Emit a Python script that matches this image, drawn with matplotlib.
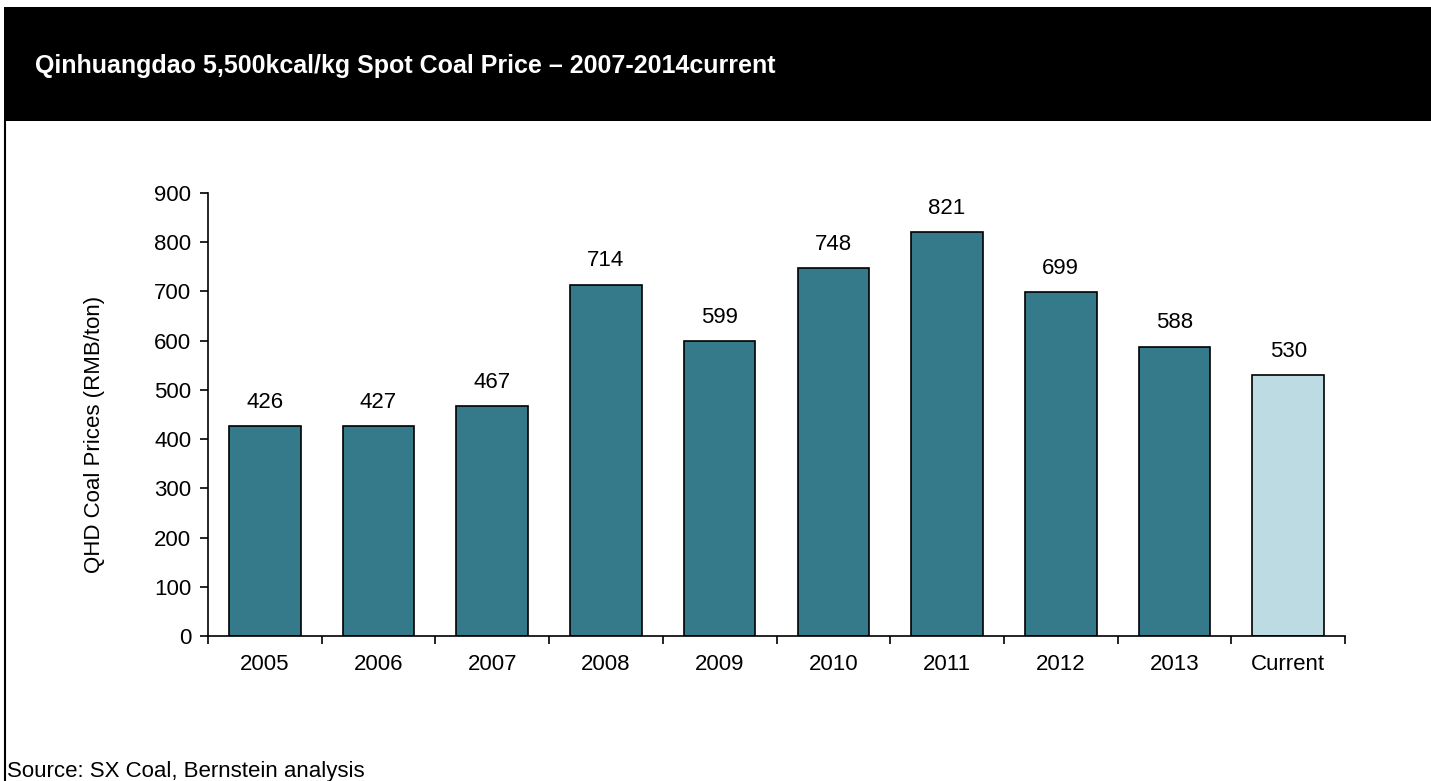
import matplotlib.pyplot as plt
import matplotlib.patches as mpatches
import numpy as np

plt.rcParams['font.family'] = ['Liberation Sans', 'DejaVu Sans']

# QHD 5,500kcal/kg spot coal prices, RMB/ton
categories = ['2005', '2006', '2007', '2008', '2009', '2010', '2011', '2012', '2013', 'Current']
prices = [426, 427, 467, 714, 599, 748, 821, 699, 588, 530]
bar_colors = ['#347a8a'] * 9 + ['#bcdbe2']

fig = plt.figure(figsize=(14.31, 7.81), dpi=100)

# black header band and left frame line
fig.add_artist(mpatches.Rectangle((4/1431, 1-121/781), 1, 114/781, transform=fig.transFigure,
                                  facecolor='black', edgecolor='none'))
fig.add_artist(plt.Line2D([5/1431, 5/1431], [0, 1-121/781], transform=fig.transFigure,
                          color='black', lw=1.5))
fig.text(35/1431, 1-66/781, 'Qinhuangdao 5,500kcal/kg Spot Coal Price \u2013 2007-2014current',
         color='white', fontsize=18, fontweight='bold', va='center', ha='left')
fig.text(7/1431, 1-772/781, 'Source: SX Coal, Bernstein analysis', fontsize=16, va='center', ha='left')

ax = fig.add_axes([208/1431, 1-636/781, (1345-208)/1431, (636-193)/781])
x = np.arange(len(categories))
ax.bar(x, prices, width=0.63, color=bar_colors, edgecolor='black', linewidth=1.2)
for xi, v in zip(x, prices):
    ax.annotate(str(v), (xi, v), xytext=(0, 17), textcoords='offset points',
                ha='center', va='center', fontsize=16)

ax.set_xlim(-0.5, len(categories) - 0.5)
ax.set_ylim(0, 900)
ax.set_yticks(range(0, 901, 100))
ax.set_xticks(x)
ax.set_xticklabels(categories)
ax.set_xticks(np.arange(-0.5, len(categories)), minor=True)
ax.tick_params(axis='x', which='major', length=0, pad=13, labelsize=16)
ax.tick_params(axis='x', which='minor', length=6, width=1.2, direction='out')
ax.tick_params(axis='y', length=6, width=1.2, direction='out', labelsize=16, pad=6)
ax.set_ylabel('QHD Coal Prices (RMB/ton)', fontsize=16)
ax.yaxis.set_label_coords(-0.0906, 0.455)
for s in ['top', 'right']:
    ax.spines[s].set_visible(False)
for s in ['left', 'bottom']:
    ax.spines[s].set_linewidth(1.2)

fig.savefig('out.png', dpi=100)
